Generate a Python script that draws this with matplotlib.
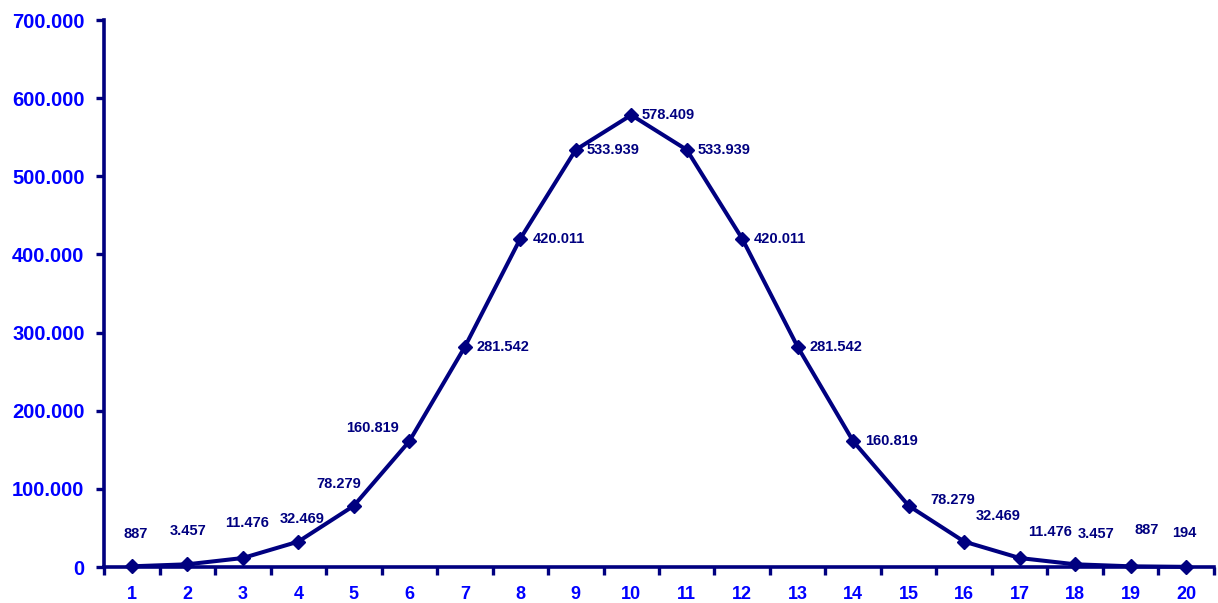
import numpy as np
import matplotlib
matplotlib.use("Agg")
import matplotlib.pyplot as plt
from matplotlib.ticker import FuncFormatter, MultipleLocator, FixedLocator

# Daten
categories = list(range(1, 21))
values = [887, 3457, 11476, 32469, 78279, 160819, 281542, 420011, 533939, 578409,
          533939, 420011, 281542, 160819, 78279, 32469, 11476, 3457, 887, 194]

# Label-Versatz in Pixeln (dx, dy nach oben), Ausrichtung
label_offsets = [(4, 32, "center"), (1, 33, "center"), (4, 35, "center"), (4, 23, "center"),
                 (-15, 22, "center"), (-37, 13, "center"),
                 (12, 0, "left"), (12, 0, "left"), (11, 0, "left"), (10, 0, "left"),
                 (11, 0, "left"), (12, 0, "left"), (12, 0, "left"), (12, 0, "left"),
                 (44, 6, "center"), (34, 26, "center"), (30, 26, "center"),
                 (21, 30, "center"), (16, 36, "center"), (-2, 34, "center")]

NAVY = "#000080"
BLUE = "#0000FF"
plt.rcParams["font.family"] = ["Liberation Sans", "DejaVu Sans"]


def dotted(v, pos=None):
    return f"{v:,.0f}".replace(",", ".")


fig = plt.figure(figsize=(12.18, 6.03), dpi=100)
ax = fig.add_axes([0.0854, 0.0597, 0.9113, 0.9071])

ax.plot(categories, values, color=NAVY, linewidth=2.9, marker="D",
        markersize=7.5, markerfacecolor=NAVY, markeredgecolor=NAVY, clip_on=False, zorder=3)

for x, v, (dx, dy, ha) in zip(categories, values, label_offsets):
    ax.annotate(dotted(v), (x, v), xytext=(dx, dy), textcoords="offset pixels",
                ha=ha, va="center", fontsize=10.5, fontweight="bold", color=NAVY)

ax.set_xlim(0.5, 20.5)
ax.set_ylim(0, 700000)

ax.yaxis.set_major_locator(MultipleLocator(100000))
ax.yaxis.set_major_formatter(FuncFormatter(dotted))

ax.xaxis.set_major_locator(FixedLocator(np.arange(0.5, 21, 1)))
ax.xaxis.set_minor_locator(FixedLocator(categories))
ax.xaxis.set_major_formatter(FuncFormatter(lambda v, p: ""))
ax.xaxis.set_minor_formatter(FuncFormatter(lambda v, p: f"{v:.0f}"))

ax.tick_params(axis="y", direction="out", length=6, width=2.4, color=NAVY,
               labelcolor=BLUE, labelsize=14.5, pad=8)
ax.tick_params(axis="x", which="major", direction="out", length=6, width=2.4, color=NAVY)
ax.tick_params(axis="x", which="minor", length=0, labelcolor=BLUE, labelsize=13, pad=14)
for lbl in ax.get_yticklabels() + ax.get_xticklabels(minor=True):
    lbl.set_fontweight("bold")

for side in ["top", "right"]:
    ax.spines[side].set_visible(False)
for side in ["left", "bottom"]:
    ax.spines[side].set_color(NAVY)
    ax.spines[side].set_linewidth(2.6)

fig.savefig("out.png", dpi=100, facecolor="white")
